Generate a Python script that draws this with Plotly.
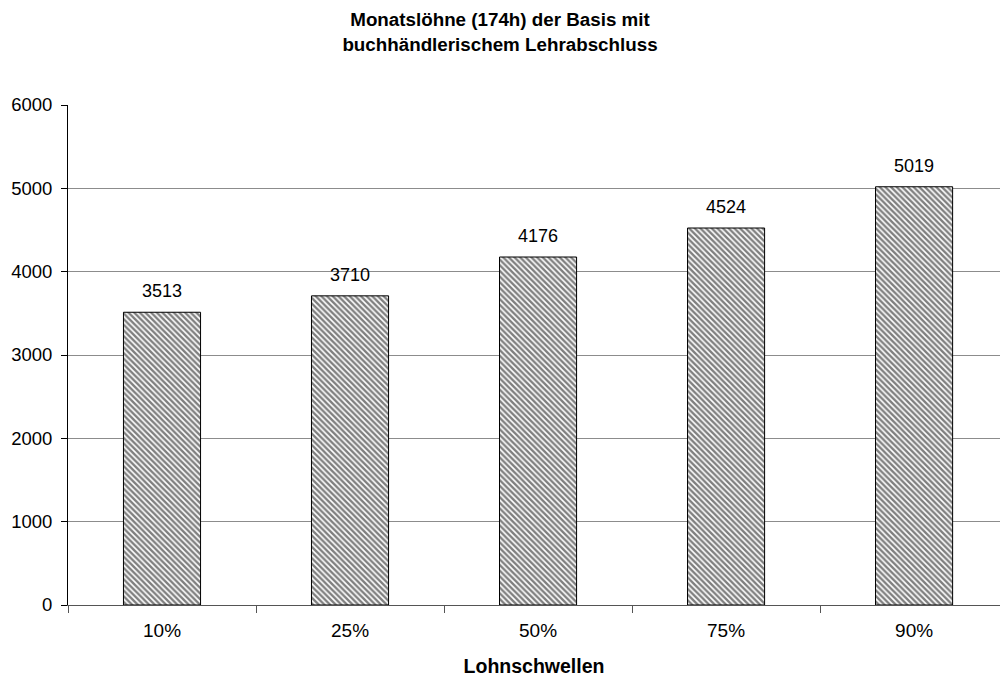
import plotly.graph_objects as go

categories = ["10%", "25%", "50%", "75%", "90%"]
wages = [3513, 3710, 4176, 4524, 5019]
y_ticks = [0, 1000, 2000, 3000, 4000, 5000, 6000]

font_family = "Liberation Sans, Arial, sans-serif"

fig = go.Figure()
fig.add_trace(go.Bar(
    x=categories,
    y=wages,
    width=0.41,
    marker=dict(
        color="white",
        line=dict(color="black", width=1),
        pattern=dict(shape="\\", size=4, solidity=0.6, fgcolor="black", bgcolor="white", fillmode="overlay"),
    ),
))

# value labels above each bar
for cat, val in zip(categories, wages):
    fig.add_annotation(
        x=cat, y=val, text=str(val), showarrow=False,
        xanchor="center", yanchor="bottom", yshift=9,
        font=dict(size=18, color="black", family=font_family),
    )

fig.update_layout(
    width=1000, height=677,
    margin=dict(l=68, r=0, t=105, b=72),
    paper_bgcolor="white", plot_bgcolor="white",
    showlegend=False,
    title=dict(
        text="<b>Monatslöhne (174h) der Basis mit<br>buchhändlerischem Lehrabschluss</b>",
        x=0.5, xanchor="center", xref="container",
        y=0.961, yanchor="middle", yref="container",
        font=dict(size=18.8, color="black", family=font_family),
    ),
    font=dict(family=font_family, color="black", size=18),
)

fig.update_xaxes(
    range=[-0.5, 4.457],
    tickson="boundaries",
    ticks="outside", ticklen=7, tickcolor="#555555",
    showline=True, linecolor="#555555", linewidth=1,
    showgrid=False,
    tickfont=dict(size=19),
    ticklabelstandoff=8,
    title=dict(text="<b>Lohnschwellen</b>", font=dict(size=19.5), standoff=19),
)
fig.update_yaxes(
    range=[0, 6000],
    tickvals=y_ticks,
    ticks="outside", ticklen=6, tickcolor="black",
    showline=True, linecolor="black", linewidth=1,
    showgrid=True, gridcolor="#8c8c8c", gridwidth=1,
    zeroline=False,
    tickfont=dict(size=18.5),
    ticklabelstandoff=5,
)

fig.write_html("out.html")
